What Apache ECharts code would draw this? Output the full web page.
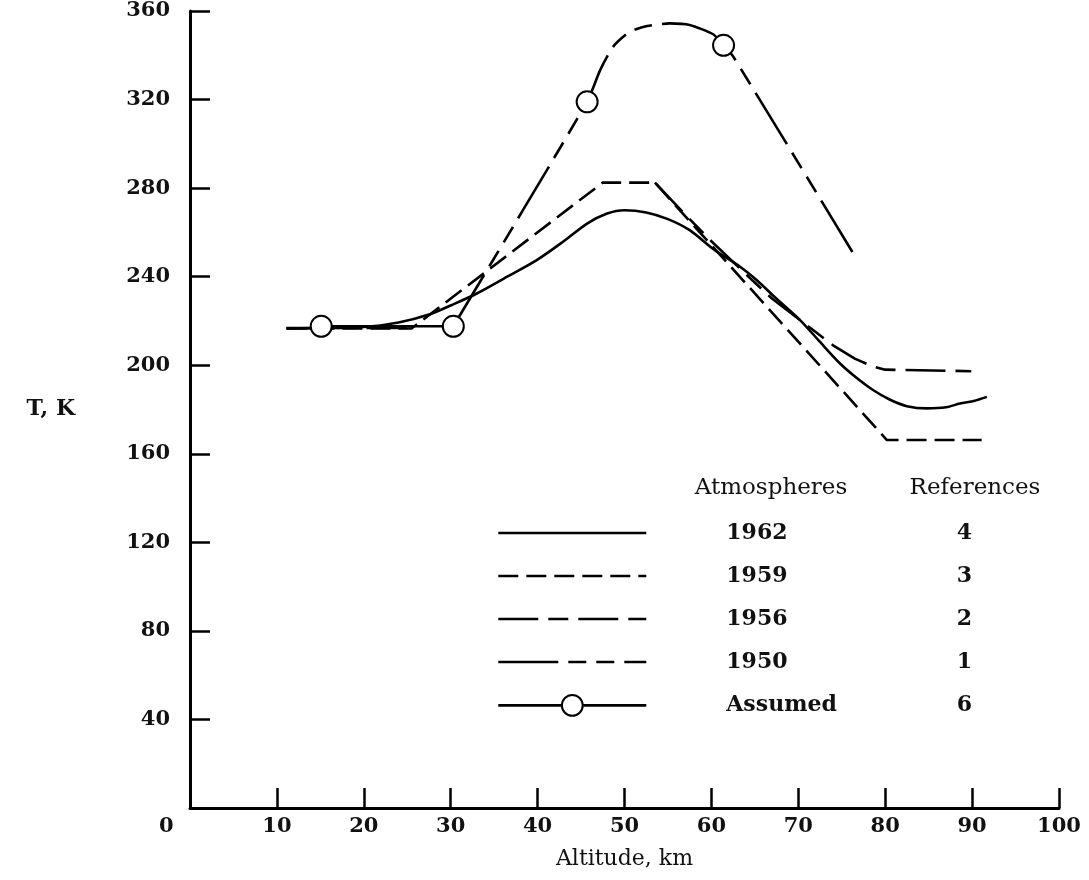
<!DOCTYPE html>
<html><head><meta charset="utf-8">
<script src="https://cdn.jsdelivr.net/npm/echarts@6/dist/echarts.min.js"></script>
<style>html,body{margin:0;padding:0;background:#fff}#c{width:1089px;height:880px}</style>
</head><body><div id="c"></div>
<script>
// Tick values
const xTicks = [0, 10, 20, 30, 40, 50, 60, 70, 80, 90, 100];
const yTicks = [0, 40, 80, 120, 160, 200, 240, 280, 320, 360];

// 1962 atmosphere (solid)
const alt1962 = [11.1, 20, 24, 27.6, 30, 33, 36.5, 39.9, 43, 45.7, 48, 50, 52.5, 55, 57.5, 60.2, 63.3, 65.2, 67.5, 70.2, 72.5, 74.8, 76.8, 78.6, 80.5, 82.5, 84.8, 87, 88.6, 90.3, 91.7];
const temp1962 = [216.6, 217.3, 219.3, 223, 227, 232.4, 240, 247.5, 256, 264, 268.5, 270, 269, 266, 261, 252.5, 244.5, 238.5, 230, 220.4, 210.5, 200.8, 194, 188.8, 184.5, 181.5, 180.5, 181, 182.7, 184, 185.7];

// 1959 atmosphere (short dashes)
const alt1959 = [11.1, 25.5, 47.5, 53.5, 80.2, 91.1];
const temp1959 = [216.6, 216.6, 282.5, 282.5, 166.2, 166.2];

// 1956 atmosphere (long-short dashes); below 53.5 km it coincides with 1959
const alt1956 = [11.1, 25.5, 25.5, 53.5, 57, 60, 64, 67, 70, 72, 74, 76.5, 78.5, 80, 89.9];
const temp1956 = [216.8, 216.8, '-', 282.5, 268, 256, 241, 230, 221, 215, 209, 203, 199.5, 198, 197.3];

// 1950 atmosphere (long, short, short dashes)
const alt1950 = [30.3, 45.7, 47.2, 48.7, 50.6, 52.6, 55.2, 57.5, 60.2, 61.4, 62.5, 76.3];
const temp1950 = [217.6, 319, 333.3, 343.9, 350.6, 353.2, 354.4, 353.7, 349.5, 344.5, 339.5, 250.7];

// Assumed (solid with circles); '-' breaks the line
const altAssumed = [15.1, 30.3, 38, 45.7, 53, 61.4];
const tempAssumed = [217.6, 217.6, '-', 319, '-', 344.5];

// Legend table
const legendNames = ['1962', '1959', '1956', '1950', 'Assumed'];
const legendRefs = ['4', '3', '2', '1', '6'];

const FONT = 'DejaVu Serif';
const zip = (a, b) => a.map((v, i) => [v, b[i]]);

const dash1959 = [20, 8];
const dash1956 = [40, 10, 20, 10];
const dash1950 = [60, 10, 18, 10, 18, 10];
const LW = 2.6;

const chart = echarts.init(document.getElementById('c'));
chart.setOption({
  backgroundColor: '#fff',
  animation: false,
  grid: { left: 190, right: 30, top: 11, bottom: 72, containLabel: false, outerBoundsMode: 'none' },
  xAxis: {
    type: 'value', min: 0, max: 100, interval: 10,
    name: 'Altitude, km', nameLocation: 'middle', nameGap: 40,
    nameTextStyle: { fontFamily: FONT, fontSize: 22, color: '#111' },
    axisLine: { lineStyle: { color: '#000', width: 3 } },
    axisTick: { inside: true, length: 20, lineStyle: { color: '#000', width: 2.5 } },
    splitLine: { show: false },
    axisLabel: {
      margin: 8, fontFamily: FONT, fontSize: 21, fontWeight: 'bold', color: '#111',
      formatter: v => v === 0 ? '{z|0}' : String(v),
      rich: { z: { width: 62, align: 'left', fontFamily: FONT, fontSize: 21, fontWeight: 'bold', color: '#111' } }
    }
  },
  yAxis: {
    type: 'value', min: 0, max: 360, interval: 40,
    name: 'T, K', nameLocation: 'middle', nameGap: 115, nameRotate: 0,
    nameTextStyle: { fontFamily: FONT, fontSize: 22, fontWeight: 'bold', color: '#111' },
    axisLine: { lineStyle: { color: '#000', width: 3 } },
    axisTick: { inside: true, length: 20, lineStyle: { color: '#000', width: 2.5 } },
    splitLine: { show: false },
    axisLabel: {
      margin: 20, fontFamily: FONT, fontSize: 21, fontWeight: 'bold', color: '#111',
      formatter: v => v === 0 ? '' : String(v)
    }
  },
  legend: {
    orient: 'vertical', left: 497, top: 522, padding: 0,
    itemWidth: 148, itemHeight: 26, itemGap: 21, selectedMode: false,
    data: legendNames.map((n, i) => {
      const d = { name: n };
      const types = ['solid', dash1959, dash1956, dash1950, 'solid'];
      d.lineStyle = { color: '#000', width: LW, type: types[i] };
      if (n !== 'Assumed') d.itemStyle = { opacity: 0 };
      return d;
    }),
    formatter: name => '{s| }{a|' + name + '}{b|' + legendRefs[legendNames.indexOf(name)] + '}',
    textStyle: {
      fontFamily: FONT, fontSize: 22, color: '#111',
      rich: {
        s: { width: 75, fontFamily: FONT, fontSize: 22 },
        a: { width: 231, align: 'left', fontFamily: FONT, fontSize: 22, fontWeight: 'bold', color: '#111' },
        b: { width: 14, align: 'center', fontFamily: FONT, fontSize: 22, fontWeight: 'bold', color: '#111' }
      }
    }
  },
  graphic: [
    { type: 'text', x: 771, y: 488, style: { text: 'Atmospheres', fontFamily: FONT, fontSize: 23, fill: '#111', align: 'center', verticalAlign: 'middle' } },
    { type: 'text', x: 975, y: 488, style: { text: 'References', fontFamily: FONT, fontSize: 23, fill: '#111', align: 'center', verticalAlign: 'middle' } }
  ],
  series: [
    { name: '1962', type: 'line', data: zip(alt1962, temp1962), symbol: 'none', smooth: 0.3,
      lineStyle: { color: '#000', width: LW, type: 'solid' }, itemStyle: { color: '#000' } },
    { name: '1959', type: 'line', data: zip(alt1959, temp1959), symbol: 'none',
      lineStyle: { color: '#000', width: LW, type: dash1959 }, itemStyle: { color: '#000' } },
    { name: '1956', type: 'line', data: zip(alt1956, temp1956), symbol: 'none', connectNulls: false,
      lineStyle: { color: '#000', width: LW, type: dash1956 }, itemStyle: { color: '#000' } },
    { name: '1950', type: 'line', data: zip(alt1950, temp1950), symbol: 'none', smooth: 0.2,
      lineStyle: { color: '#000', width: LW, type: dash1950 }, itemStyle: { color: '#000' } },
    { name: 'Assumed', type: 'line', data: zip(altAssumed, tempAssumed), connectNulls: false,
      symbol: 'emptyCircle', symbolSize: 21, showAllSymbol: true, z: 5,
      lineStyle: { color: '#000', width: LW, type: 'solid' },
      itemStyle: { color: '#000', borderColor: '#000', borderWidth: 2.2 } }
  ]
});
</script>
</body></html>
